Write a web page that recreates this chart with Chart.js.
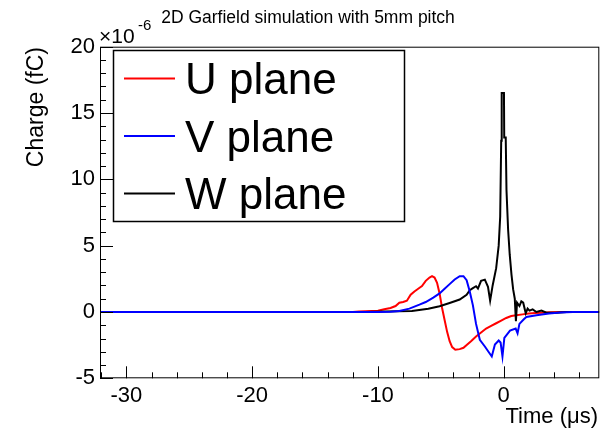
<!DOCTYPE html>
<html>
<head>
<meta charset="utf-8">
<script src="https://cdn.jsdelivr.net/npm/chart.js@4.4.0/dist/chart.umd.min.js"></script>
<style>
  html, body { margin: 0; padding: 0; background: #fff; }
  #wrap { width: 611px; height: 434px; }
</style>
</head>
<body>
<div id="wrap"><canvas id="c" width="611" height="434"></canvas></div>
<script>
// Induced charge per plane, time in microseconds, charge in units of 1e-6 fC
var uTime = [-32.1, -12, -11.5, -11, -10.5, -10, -9.5, -9, -8.6, -8.3, -8.0, -7.7, -7.4, -7.1, -6.8, -6.5, -6.2, -5.9, -5.7, -5.5, -5.3, -5.1, -4.9, -4.7, -4.5, -4.3, -4.1, -3.85, -3.5, -3.2, -2.9, -2.6, -2.2, -1.8, -1.4, -1.0, -0.6, -0.2, 0.2, 0.6, 1.0, 1.5, 2.0, 2.5, 3.0, 3.7, 4.5, 7.6];
var uCharge = [0, 0, 0.03, 0.05, 0.08, 0.1, 0.2, 0.3, 0.45, 0.7, 0.75, 0.85, 1.3, 1.55, 1.75, 1.95, 2.35, 2.6, 2.7, 2.6, 2.2, 1.4, 0.3, -0.6, -1.5, -2.2, -2.65, -2.85, -2.8, -2.7, -2.45, -2.2, -1.85, -1.55, -1.25, -1.05, -0.85, -0.65, -0.45, -0.3, -0.25, -0.18, -0.12, -0.08, -0.05, -0.02, 0, 0];

var vTime = [-32.1, -10, -9.0, -8.3, -7.5, -6.7, -6.2, -5.6, -5.1, -4.7, -4.3, -3.9, -3.5, -3.2, -2.95, -2.7, -2.45, -2.2, -1.9, -1.5, -1.1, -0.95, -0.7, -0.4, -0.25, -0.1, 0.05, 0.5, 0.95, 1.1, 1.25, 1.6, 1.8, 2.6, 3.6, 4.5, 5.5, 7.6];
var vCharge = [0, 0, 0.02, 0.08, 0.25, 0.55, 0.75, 1.08, 1.4, 1.75, 2.1, 2.45, 2.7, 2.7, 2.4, 1.55, 0.5, -0.9, -2.1, -2.6, -3.15, -3.35, -2.45, -2.15, -2.3, -3.35, -1.95, -1.4, -1.25, -1.6, -0.9, -0.55, -0.38, -0.25, -0.12, -0.04, 0, 0];

var wTime = [-32.1, -11, -9.5, -7.3, -6.0, -5.1, -4.3, -3.5, -2.95, -2.7, -2.45, -2.2, -2.05, -1.8, -1.5, -1.25, -1.08, -0.88, -0.6, -0.4, -0.28, -0.2, -0.16, 0.02, 0.04, 0.16, 0.22, 0.35, 0.48, 0.62, 0.75, 0.88, 0.97, 1.06, 1.25, 1.4, 1.55, 1.75, 1.9, 2.05, 2.3, 2.6, 3.0, 3.4, 4.2, 5.0, 7.6];
var wCharge = [0, 0, 0.03, 0.08, 0.25, 0.43, 0.68, 0.94, 1.3, 1.64, 1.8, 1.94, 1.76, 2.35, 2.44, 1.9, 0.85, 2.0, 3.3, 5.0, 7.2, 12.9, 16.5, 16.5, 13.15, 13.15, 9.2, 6.2, 4.3, 2.8, 1.7, 1.0, -0.7, 0.7, 0.45, 0.8, 0.7, -0.1, 0.25, 0.1, 0.2, 0.0, 0.1, -0.05, -0.05, 0, 0];

var planeNames = ['U plane', 'V plane', 'W plane'];
var planeColors = ['#ff0000', '#0000ff', '#000000'];

var xRange = [-32.1, 7.6];
var yRange = [-5, 20];
var xTicks = [-30, -20, -10, 0];
var yTicks = [-5, 0, 5, 10, 15, 20];

var FONT = '"Liberation Sans", Arial, Helvetica, sans-serif';

function toPoints(ts, qs) {
  return ts.map(function(t, i) { return { x: t, y: qs[i] }; });
}

// frame, inward ticks and axis titles in the usual histogram style
var framePlugin = {
  id: 'frame',
  afterDatasetsDraw: function(chart) {
    var ctx = chart.ctx, a = chart.chartArea;
    var xs = chart.scales.x, ys = chart.scales.y;
    ctx.save();
    ctx.strokeStyle = '#000';
    ctx.lineWidth = 1;
    ctx.strokeRect(a.left + 0.5, a.top + 0.5, a.right - a.left - 1, a.bottom - a.top - 1);
    ctx.beginPath();
    for (var v = -5; v <= 20; v += 1) {
      var py = Math.round(ys.getPixelForValue(v)) + 0.5;
      var len = (v % 5 === 0) ? 13 : 6;
      ctx.moveTo(a.left, py);
      ctx.lineTo(a.left + len, py);
    }
    for (var t = -32; t <= 7; t += 2) {
      var px = Math.round(xs.getPixelForValue(t)) + 0.5;
      var l2 = (t % 10 === 0) ? 12 : 6;
      ctx.moveTo(px, a.bottom);
      ctx.lineTo(px, a.bottom - l2);
    }
    ctx.stroke();
    ctx.restore();
  },
  afterDraw: function(chart) {
    var ctx = chart.ctx;
    ctx.save();
    ctx.fillStyle = '#000';

    // title
    ctx.font = '17.5px ' + FONT;
    ctx.textAlign = 'center';
    ctx.textBaseline = 'alphabetic';
    ctx.fillText('2D Garfield simulation with 5mm pitch', 308, 23);

    // exponent of the y axis
    ctx.textAlign = 'left';
    ctx.font = '21px ' + FONT;
    ctx.fillText('\u00d710', 99, 43);
    ctx.font = '15px ' + FONT;
    ctx.fillText('-6', 138, 30);

    // axis titles
    ctx.font = '22px ' + FONT;
    ctx.textAlign = 'right';
    ctx.fillText('Time (\u03bcs)', 598, 423);
    ctx.font = '23px ' + FONT;
    ctx.translate(43, 47);
    ctx.rotate(-Math.PI / 2);
    ctx.fillText('Charge (fC)', 0, 0);
    ctx.restore();

    // legend box
    ctx.save();
    ctx.fillStyle = '#fff';
    ctx.fillRect(113, 50, 292, 172);
    ctx.strokeStyle = '#000';
    ctx.lineWidth = 1.5;
    ctx.strokeRect(113.5, 50.5, 291, 171);
    ctx.font = '44px ' + FONT;
    ctx.textAlign = 'left';
    ctx.textBaseline = 'alphabetic';
    chart.data.datasets.forEach(function(ds, i) {
      var rowY = 78.5 + i * 57.5;
      ctx.strokeStyle = ds.borderColor;
      ctx.lineWidth = 2;
      ctx.beginPath();
      ctx.moveTo(124, rowY);
      ctx.lineTo(175, rowY);
      ctx.stroke();
      ctx.fillStyle = '#000';
      ctx.fillText(ds.label, 185, rowY + 15.5);
    });
    ctx.restore();
  }
};

new Chart(document.getElementById('c'), {
  type: 'line',
  data: {
    datasets: [
      { label: planeNames[0], data: toPoints(uTime, uCharge), borderColor: planeColors[0], order: 2 },
      { label: planeNames[1], data: toPoints(vTime, vCharge), borderColor: planeColors[1], order: 0 },
      { label: planeNames[2], data: toPoints(wTime, wCharge), borderColor: planeColors[2], order: 1 }
    ]
  },
  options: {
    responsive: false,
    animation: false,
    devicePixelRatio: 1,
    layout: { padding: { left: 0, right: 11.7, top: 46.7, bottom: 0 } },
    elements: {
      line: { borderWidth: 2, tension: 0, fill: false },
      point: { radius: 0, hoverRadius: 0 }
    },
    plugins: { legend: { display: false }, tooltip: { enabled: false }, title: { display: false } },
    scales: {
      x: {
        type: 'linear', min: xRange[0], max: xRange[1],
        grid: { display: false, drawTicks: false },
        border: { display: false },
        ticks: { padding: 4, color: '#000', font: { family: FONT, size: 22 }, maxRotation: 0 },
        afterBuildTicks: function(s) { s.ticks = xTicks.map(function(v) { return { value: v }; }); },
        afterFit: function(s) { s.height = 55.7; }
      },
      y: {
        type: 'linear', min: yRange[0], max: yRange[1],
        grid: { display: false, drawTicks: false },
        border: { display: false },
        ticks: { padding: 5, color: '#000', font: { family: FONT, size: 22 } },
        afterBuildTicks: function(s) { s.ticks = yTicks.map(function(v) { return { value: v }; }); },
        afterFit: function(s) { s.width = 100; }
      }
    }
  },
  plugins: [framePlugin]
});
</script>
</body>
</html>
